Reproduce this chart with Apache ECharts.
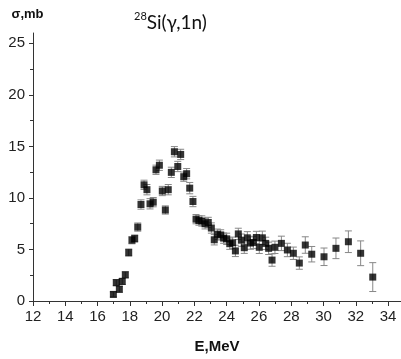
<!DOCTYPE html>
<html>
<head>
<meta charset="utf-8">
<script src="https://cdn.jsdelivr.net/npm/echarts@6/dist/echarts.min.js"></script>
<style>
  html, body { margin: 0; padding: 0; background: #fff; }
  #chart { width: 401px; height: 359px; }
</style>
</head>
<body>
<div id="chart"></div>
<script>
// photon energy, MeV
const energy = [16.98, 17.16, 17.35, 17.53, 17.72, 17.93, 18.13, 18.30, 18.49, 18.69,
  18.88, 19.06, 19.25, 19.45, 19.62, 19.83, 20.01, 20.20, 20.38, 20.57,
  20.76, 20.97, 21.15, 21.34, 21.52, 21.71, 21.91, 22.10, 22.28, 22.46,
  22.66, 22.86, 23.05, 23.23, 23.42, 23.63, 23.81, 24.00, 24.19, 24.37,
  24.54, 24.72, 24.91, 25.09, 25.28, 25.47, 25.65, 25.84, 26.02, 26.21,
  26.42, 26.60, 26.81, 26.99, 27.39, 27.76, 28.13, 28.50, 28.87, 29.27,
  30.03, 30.77, 31.54, 32.30, 33.05];
// cross section, mb
const sigma = [0.64, 1.78, 1.14, 1.90, 2.54, 4.70, 5.90, 6.06, 7.17, 9.36,
  11.27, 10.80, 9.43, 9.59, 12.73, 13.17, 10.67, 8.83, 10.80, 12.48,
  14.48, 13.05, 14.22, 12.06, 12.35, 10.95, 9.65, 7.94, 7.80, 7.76,
  7.49, 7.62, 7.08, 5.94, 6.48, 6.41, 6.10, 6.03, 5.56, 5.65,
  4.86, 6.51, 5.90, 5.17, 6.13, 5.62, 5.68, 6.16, 5.21, 6.13,
  5.59, 5.11, 3.97, 5.21, 5.59, 4.95, 4.63, 3.68, 5.43, 4.54,
  4.29, 5.11, 5.75, 4.63, 2.32];
// error (+/-), mb
const sigmaErr = [0.25, 0.3, 0.3, 0.3, 0.3, 0.35, 0.35, 0.35, 0.4, 0.45,
  0.45, 0.5, 0.5, 0.45, 0.45, 0.5, 0.45, 0.4, 0.5, 0.5,
  0.5, 0.5, 0.5, 0.45, 0.5, 0.55, 0.5, 0.45, 0.45, 0.5,
  0.5, 0.5, 0.5, 0.5, 0.5, 0.5, 0.5, 0.55, 0.55, 0.55,
  0.55, 0.55, 0.6, 0.55, 0.6, 0.6, 0.6, 0.6, 0.6, 0.65,
  0.6, 0.6, 0.6, 0.6, 0.7, 0.65, 0.6, 0.6, 0.8, 0.75,
  0.85, 1.0, 1.05, 1.2, 1.4];

const xMajor = [12, 14, 16, 18, 20, 22, 24, 26, 28, 30, 32, 34];
const xMinor = [13, 15, 17, 19, 21, 23, 25, 27, 29, 31, 33];
const yMajor = [0, 5, 10, 15, 20, 25];
const yMinor = [2.5, 7.5, 12.5, 17.5, 22.5];

const points = energy.map((e, i) => [e, sigma[i]]);
const bars = energy.map((e, i) => [e, sigma[i] - sigmaErr[i], sigma[i] + sigmaErr[i]]);

const axisColor = '#333';
const labelFont = { fontFamily: 'Liberation Sans', fontSize: 15, color: '#222' };

const option = {
  animation: false,
  title: {
    text: '{s|28}{m|Si(γ,1n)}',
    left: 129,
    top: 6,
    textStyle: {
      fontWeight: 'normal',
      rich: {
        s: { fontFamily: 'Lato', fontSize: 11, fontWeight: 'normal', color: '#111', verticalAlign: 'top', lineHeight: 14 },
        m: { fontFamily: 'Lato', fontSize: 19, fontWeight: 'normal', color: '#111', lineHeight: 24 }
      }
    }
  },
  grid: { left: 33, right: 0, top: 33, bottom: 53 },
  xAxis: [
    {
      type: 'value', min: 12, max: 34.8,
      name: 'E,MeV', nameLocation: 'middle', nameGap: 38,
      nameTextStyle: { fontFamily: 'Liberation Sans', fontWeight: 'bold', fontSize: 15, color: '#111' },
      splitLine: { show: false },
      axisLine: { lineStyle: { color: axisColor } },
      axisTick: { customValues: xMajor, length: 5, lineStyle: { color: axisColor } },
      axisLabel: { customValues: xMajor, margin: 8, ...labelFont }
    },
    {
      // minor ticks only
      type: 'value', min: 12, max: 34.8, position: 'bottom',
      splitLine: { show: false },
      axisLine: { show: false },
      axisTick: { customValues: xMinor, length: 3, lineStyle: { color: axisColor } },
      axisLabel: { show: false }
    }
  ],
  yAxis: [
    {
      type: 'value', min: 0, max: 26,
      name: 'σ,mb', nameLocation: 'end', nameGap: 12,
      nameTextStyle: { fontFamily: 'Liberation Sans', fontWeight: 'bold', fontSize: 13, color: '#111', align: 'center', padding: [0, 11, 0, 0] },
      splitLine: { show: false },
      axisLine: { show: true, lineStyle: { color: axisColor } },
      axisTick: { customValues: yMajor, length: 4, lineStyle: { color: axisColor } },
      axisLabel: { customValues: yMajor, margin: 8, ...labelFont }
    },
    {
      type: 'value', min: 0, max: 26, position: 'left',
      splitLine: { show: false },
      axisLine: { show: false },
      axisTick: { customValues: yMinor, length: 3, lineStyle: { color: axisColor } },
      axisLabel: { show: false }
    }
  ],
  series: [
    {
      type: 'custom',
      data: bars,
      encode: { x: 0, y: [1, 2] },
      z: 1,
      renderItem: function (params, api) {
        const lo = api.coord([api.value(0), api.value(1)]);
        const hi = api.coord([api.value(0), api.value(2)]);
        const w = 3.5;
        const style = { stroke: '#888', lineWidth: 1 };
        return {
          type: 'group',
          children: [
            { type: 'line', shape: { x1: hi[0], y1: hi[1], x2: lo[0], y2: lo[1] }, style },
            { type: 'line', shape: { x1: hi[0] - w, y1: hi[1], x2: hi[0] + w, y2: hi[1] }, style },
            { type: 'line', shape: { x1: lo[0] - w, y1: lo[1], x2: lo[0] + w, y2: lo[1] }, style }
          ]
        };
      }
    },
    {
      type: 'scatter',
      data: points,
      symbol: 'rect',
      symbolSize: 7,
      z: 2,
      itemStyle: { color: '#000' }
    }
  ]
};

const chart = echarts.init(document.getElementById('chart'));
chart.setOption(option);
</script>
</body>
</html>
